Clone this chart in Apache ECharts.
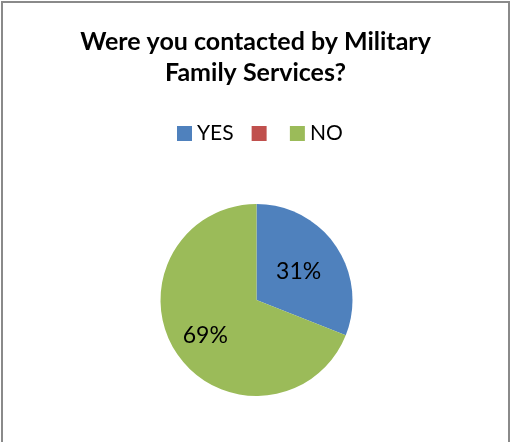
<!DOCTYPE html>
<html>
<head>
<meta charset="utf-8" />
<title>Military Family Services</title>
<script src="https://cdn.jsdelivr.net/npm/echarts@6/dist/echarts.min.js"></script>
<style>
  html, body { margin: 0; padding: 0; background: #fff; }
  #frame {
    position: absolute; left: 1px; top: 1px; width: 505px; height: 460px;
    border: 2px solid #8a8a8a; background: #fff;
  }
  #main { width: 505px; height: 460px; }
</style>
</head>
<body>
<div id="frame"><div id="main"></div></div>
<script>
    var titleText = 'Were you contacted by Military\nFamily Services?';
    var categories = ['YES', ' ', 'NO'];
    var values = [31, 0, 69];
    var colors = ['#4F81BD', '#C0504D', '#9BBB59'];

    var myChart = echarts.init(document.getElementById('main'));

    var pieData = categories.map(function(c, i) {
        return { name: c, value: values[i], itemStyle: { color: colors[i] } };
    });
    // nudge the big slice label outward a bit, like the original
    pieData[2].label = { offset: [-9, 7] };

    var legendData = categories.map(function(c) {
        return c.trim() ? c : { name: c, textStyle: { fontSize: 1 } };
    });

    var option = {
        animation: false,
        title: {
            text: titleText,
            left: 'center',
            top: 18,
            textStyle: {
                fontFamily: 'Lato',
                fontWeight: 'bold',
                fontSize: 25,
                lineHeight: 31,
                color: '#000'
            }
        },
        legend: {
            top: 115,
            left: 169,
            itemWidth: 15,
            itemHeight: 15,
            itemGap: 18,
            icon: 'rect',
            data: legendData,
            textStyle: {
                fontFamily: 'Lato',
                fontSize: 21,
                color: '#000'
            }
        },
        series: [{
            type: 'pie',
            center: [253.5, 297],
            radius: 96,
            startAngle: 90,
            clockwise: true,
            silent: true,
            labelLine: { show: false },
            label: {
                show: true,
                position: 'inside',
                formatter: function(p) { return p.value > 0 ? p.value + '%' : ''; },
                fontFamily: 'Lato',
                fontSize: 23,
                color: '#000'
            },
            data: pieData
        }]
    };

    myChart.setOption(option);
</script>
</body>
</html>
